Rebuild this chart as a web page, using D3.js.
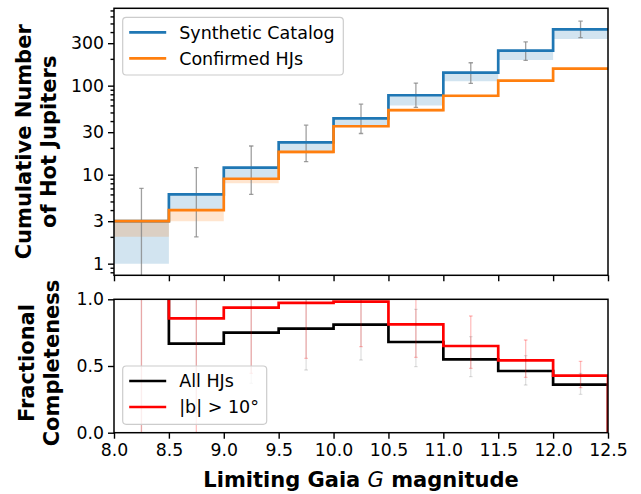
<!DOCTYPE html>
<html>
<head>
<meta charset="utf-8">
<script src="https://cdn.jsdelivr.net/npm/d3@7"></script>
<style>
  body { margin: 0; background: #fff; }
  text { font-family: "DejaVu Sans", sans-serif; }
</style>
</head>
<body>
<script>
"use strict";

// bins (limiting Gaia G magnitude)
var binEdges = [8.0, 8.5, 9.0, 9.5, 10.0, 10.5, 11.0, 11.5, 12.0, 12.5];
var binCenters = [8.25, 8.75, 9.25, 9.75, 10.25, 10.75, 11.25, 11.75, 12.25];

// top panel: cumulative counts
var synthetic = [3, 6, 12, 23, 43, 78, 140, 247, 429];
var syntheticLow = [1, 4, 9, 18, 35, 60, 112, 194, 334];
var syntheticErrLow = [0.5, 2, 6, 14, 29, 57, 106, 192, 347];
var syntheticErrHigh = [7, 12, 21, 36, 62, 107, 181, 310, 531];
var confirmed = [3, 4, 9, 18, 35, 53, 77, 114, 155];
var confirmedLow = [2, 3, 8, 17.2, 34, 51, 74, 110, 150];

// bottom panel: fractional completeness
var fracAll = [1.0, 0.667, 0.75, 0.78, 0.81, 0.68, 0.55, 0.4625, 0.36];
var fracAllLow = [0, 0.15, 0.37, 0.47, 0.545, 0.495, 0.42, 0.3575, 0.2875];
var fracAllHigh = [1, 1, 1, 1, 1, 0.925, 0.72, 0.5775, 0.445];
var fracHighLat = [1.0, 0.857, 0.9375, 0.9725, 0.9825, 0.8125, 0.65, 0.5425, 0.4275];
var fracHighLatLow = [0, 0, 0.445, 0.5575, 0.645, 0.565, 0.4825, 0.415, 0.3375];
var fracHighLatHigh = [1, 1, 1, 1, 1, 1, 0.875, 0.695, 0.535];

var topTicks = [1, 3, 10, 30, 100, 300];
var fracTicks = [0.0, 0.5, 1.0];
var magTicks = [8.0, 8.5, 9.0, 9.5, 10.0, 10.5, 11.0, 11.5, 12.0, 12.5];

var blue = "#1f77b4", orange = "#ff7f0e";
var W = 641, H = 494;
var left = 114, right = 608;
var top1 = 8.3, bot1 = 275.3;
var top2 = 299.3, bot2 = 432.7;
var tickFont = "17.3px";

var svg = d3.select("body").append("svg")
    .attr("width", W).attr("height", H);
svg.append("rect").attr("width", W).attr("height", H).attr("fill", "#fff");

var x = d3.scaleLinear().domain([8, 12.5]).range([left, right]);
var y1 = d3.scaleLog().domain([0.74, 740]).range([bot1, top1]);
var y2 = d3.scaleLinear().domain([0, 1]).range([bot2, top2]);

var defs = svg.append("defs");
defs.append("clipPath").attr("id", "clip1").append("rect")
    .attr("x", left).attr("y", top1).attr("width", right - left).attr("height", bot1 - top1);
defs.append("clipPath").attr("id", "clip2").append("rect")
    .attr("x", left).attr("y", top2).attr("width", right - left).attr("height", bot2 - top2);

function stepPts(vals) {
    var pts = vals.map(function(v, i) { return [binEdges[i], v]; });
    pts.push([binEdges[binEdges.length - 1], vals[vals.length - 1]]);
    return pts;
}

// completeness curves: value at each bin's right edge, step "pre", dropping to 0 past the end
function preStepPts(vals) {
    var pts = vals.map(function(v, i) { return [binEdges[i + 1], v]; });
    pts.push([binEdges[binEdges.length - 1] + 0.5, 0]);
    return pts;
}

function errorBars(g, yScale, lows, highs, color, opacity, cap, sw) {
    var eb = g.append("g").attr("stroke", color).attr("stroke-opacity", opacity).attr("stroke-width", sw);
    binCenters.forEach(function(c, i) {
        var cx = x(c), ylo = yScale(lows[i]), yhi = yScale(highs[i]);
        eb.append("line").attr("x1", cx).attr("x2", cx).attr("y1", ylo).attr("y2", yhi);
        eb.append("line").attr("x1", cx - cap).attr("x2", cx + cap).attr("y1", ylo).attr("y2", ylo);
        eb.append("line").attr("x1", cx - cap).attr("x2", cx + cap).attr("y1", yhi).attr("y2", yhi);
    });
}

// ---------- top panel ----------
var p1 = svg.append("g").attr("clip-path", "url(#clip1)");
var area1 = d3.area().curve(d3.curveStepAfter)
    .x(function(d) { return x(d[0]); })
    .y0(function(d) { return y1(d[2]); })
    .y1(function(d) { return y1(d[1]); });
var line1 = d3.line().curve(d3.curveStepAfter)
    .x(function(d) { return x(d[0]); })
    .y(function(d) { return y1(d[1]); });

function bandPts(hi, lo) {
    var pts = hi.map(function(v, i) { return [binEdges[i], v, lo[i]]; });
    pts.push([binEdges[binEdges.length - 1], hi[hi.length - 1], lo[lo.length - 1]]);
    return pts;
}
p1.append("path").attr("d", area1(bandPts(synthetic, syntheticLow)))
    .attr("fill", blue).attr("fill-opacity", 0.2);
p1.append("path").attr("d", area1(bandPts(confirmed, confirmedLow)))
    .attr("fill", orange).attr("fill-opacity", 0.2);
errorBars(p1, y1, syntheticErrLow, syntheticErrHigh, "#808080", 0.75, 2.2, 1.3);
p1.append("path").attr("d", line1(stepPts(synthetic))).attr("fill", "none")
    .attr("stroke", blue).attr("stroke-width", 2.7);
p1.append("path").attr("d", line1(stepPts(confirmed))).attr("fill", "none")
    .attr("stroke", orange).attr("stroke-width", 2.7);

// axes top
svg.append("g").attr("transform", "translate(" + left + ",0)")
    .call(d3.axisLeft(y1).tickValues(topTicks).tickFormat(d3.format("d")).tickSize(6).tickPadding(4));
var minor = [];
[0.1, 1, 10, 100].forEach(function(dec) {
    for (var k = 2; k <= 9; k++) {
        var v = dec * k;
        if (v >= 0.74 && v <= 740 && topTicks.indexOf(v) < 0) minor.push(v);
    }
});
svg.append("g").attr("transform", "translate(" + left + ",0)")
    .call(d3.axisLeft(y1).tickValues(minor).tickFormat("").tickSize(3.5));
svg.append("g").attr("transform", "translate(0," + bot1 + ")")
    .call(d3.axisBottom(x).tickValues(magTicks).tickFormat("").tickSize(6));

// ---------- bottom panel ----------
var p2 = svg.append("g").attr("clip-path", "url(#clip2)");
var line2 = d3.line().curve(d3.curveStepBefore)
    .x(function(d) { return x(d[0]); })
    .y(function(d) { return y2(d[1]); });
p2.append("path").attr("d", line2(preStepPts(fracAll))).attr("fill", "none")
    .attr("stroke", "#000").attr("stroke-width", 2.7);
p2.append("path").attr("d", line2(preStepPts(fracHighLat))).attr("fill", "none")
    .attr("stroke", "#ff0000").attr("stroke-width", 2.7);
errorBars(p2, y2, fracAllLow, fracAllHigh, "#000", 0.12, 1.8, 1.3);
errorBars(p2, y2, fracHighLatLow, fracHighLatHigh, "#ff0000", 0.25, 1.8, 1.3);

svg.append("g").attr("transform", "translate(" + left + ",0)")
    .call(d3.axisLeft(y2).tickValues(fracTicks).tickFormat(d3.format(".1f")).tickSize(6).tickPadding(4));
svg.append("g").attr("transform", "translate(0," + bot2 + ")")
    .call(d3.axisBottom(x).tickValues(magTicks).tickFormat(d3.format(".1f")).tickSize(6).tickPadding(5));

// frames
[[top1, bot1], [top2, bot2]].forEach(function(r) {
    svg.append("rect").attr("x", left).attr("y", r[0]).attr("width", right - left).attr("height", r[1] - r[0])
        .attr("fill", "none").attr("stroke", "#000").attr("stroke-width", 1.5);
});

svg.selectAll(".domain").remove();
svg.selectAll(".tick line").attr("stroke", "#000").attr("stroke-width", 1.4);
svg.selectAll(".tick text").attr("fill", "#000").style("font-size", tickFont)
    .style("font-family", "'DejaVu Sans', sans-serif");

// ---------- legends ----------
function legend(x0, y0, w, h, items) {
    var g = svg.append("g");
    g.append("rect").attr("x", x0).attr("y", y0).attr("width", w).attr("height", h)
        .attr("rx", 3.5).attr("fill", "#fff").attr("fill-opacity", 0.8)
        .attr("stroke", "#cccccc").attr("stroke-width", 1.2);
    items.forEach(function(it, i) {
        var yy = y0 + 15 + i * 26;
        g.append("line").attr("x1", x0 + 6.5).attr("x2", x0 + 43.5).attr("y1", yy).attr("y2", yy)
            .attr("stroke", it.color).attr("stroke-width", 2.7);
        g.append("text").attr("x", x0 + 56.5).attr("y", yy + 6.2)
            .style("font-size", "17.5px").attr("fill", "#000").text(it.label);
    });
}
legend(122.7, 17.3, 220.6, 57.7, [
    { label: "Synthetic Catalog", color: blue },
    { label: "Confirmed HJs", color: orange }
]);
legend(122.7, 366, 144, 58.3, [
    { label: "All HJs", color: "#000" },
    { label: "|b| > 10\u00b0", color: "#ff0000" }
]);

// ---------- axis labels ----------
var yl1 = svg.append("text").attr("transform", "translate(31," + ((top1 + bot1) / 2) + ") rotate(-90)")
    .attr("text-anchor", "middle").style("font-size", "21px").style("font-weight", "bold");
yl1.append("tspan").attr("x", 0).attr("y", 0).text("Cumulative Number");
yl1.append("tspan").attr("x", 0).attr("y", 25).text("of Hot Jupiters");

var yl2 = svg.append("text").attr("transform", "translate(34," + ((top2 + bot2) / 2 - 3) + ") rotate(-90)")
    .attr("text-anchor", "middle").style("font-size", "21px").style("font-weight", "bold");
yl2.append("tspan").attr("x", 0).attr("y", 0).text("Fractional");
yl2.append("tspan").attr("x", 0).attr("y", 25).text("Completeness");

var xl = svg.append("text").attr("x", (left + right) / 2).attr("y", 487)
    .attr("text-anchor", "middle").style("font-size", "21px").style("font-weight", "bold");
xl.append("tspan").text("Limiting Gaia ");
xl.append("tspan").style("font-style", "italic").style("font-weight", "normal").text("G");
xl.append("tspan").text(" magnitude");
</script>
</body>
</html>
